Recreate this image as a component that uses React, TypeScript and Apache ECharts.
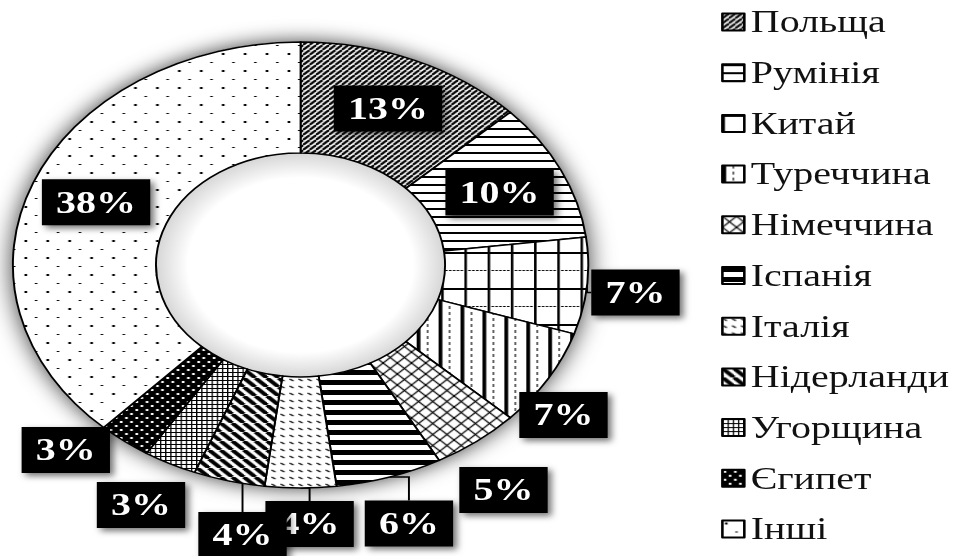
import React, { useEffect, useRef } from "react";
import * as echarts from "echarts";

// ---- data ----
const categories = [
  "Польща",
  "Румінія",
  "Китай",
  "Туреччина",
  "Німеччина",
  "Іспанія",
  "Італія",
  "Нідерланди",
  "Угорщина",
  "Єгипет",
  "Інші",
];
const shares = [13, 10, 7, 7, 5, 6, 4, 4, 3, 3, 38];

// label placement (chart space, before horizontal stretch); null = inside the slice
const labelCenters: (number[] | null)[] = [
  null,
  null,
  [492.6, 292.5],
  [436.8, 415],
  [390.3, 490],
  [317, 523.5],
  [240, 524],
  [188, 535],
  [109.3, 505],
  [51, 450],
  null,
];
const showLeader = [false, false, true, false, false, true, true, true, false, false, false];

const SX = 1.29; // reference picture is stretched horizontally
const W = 748;
const H = 556;
const SERIF = "'Liberation Serif', 'Times New Roman', serif";

type G = CanvasRenderingContext2D;

function tile(w: number, h: number, bg: string, draw: (g: G) => void) {
  const c = document.createElement("canvas");
  c.width = w;
  c.height = h;
  const g = c.getContext("2d") as G;
  g.fillStyle = bg;
  g.fillRect(0, 0, w, h);
  g.fillStyle = "#000";
  g.strokeStyle = "#000";
  draw(g);
  return { image: c.toDataURL(), repeat: "repeat", imageWidth: w, imageHeight: h };
}

function diag(g: G, w: number, h: number, lw: number, dir: number) {
  g.lineWidth = lw;
  for (const o of [-w, 0, w]) {
    g.beginPath();
    if (dir > 0) {
      g.moveTo(o, h);
      g.lineTo(o + w, 0);
    } else {
      g.moveTo(o, 0);
      g.lineTo(o + w, h);
    }
    g.stroke();
  }
}

function makePatterns() {
  return [
    // Польща: dense forward diagonals
    tile(5, 5, "#fff", (g) => diag(g, 5, 5, 2, 1)),
    // Румінія: thin horizontal lines
    tile(8, 8, "#fff", (g) => g.fillRect(0, 0, 8, 2)),
    // Китай: grid with dotted midlines
    tile(18, 36, "#fff", (g) => {
      g.fillRect(0, 0, 2, 36);
      g.fillRect(0, 0, 18, 2);
      for (let x = 0; x < 18; x += 3) g.fillRect(x, 18, 2, 1);
    }),
    // Туреччина: vertical lines, thick + dotted
    tile(17, 6, "#fff", (g) => {
      g.fillRect(0, 0, 3, 6);
      g.fillRect(8, 0, 1, 3);
    }),
    // Німеччина: diamond lattice
    tile(11, 11, "#fff", (g) => {
      diag(g, 11, 11, 1.2, 1);
      diag(g, 11, 11, 1.2, -1);
    }),
    // Іспанія: thick horizontal lines
    tile(8, 10, "#fff", (g) => g.fillRect(0, 0, 8, 5)),
    // Італія: small dashes
    tile(7, 7, "#fff", (g) => {
      g.lineWidth = 1.2;
      g.beginPath();
      g.moveTo(0.5, 1);
      g.lineTo(3.5, 3);
      g.stroke();
    }),
    // Нідерланди: thick back diagonals
    tile(9, 9, "#fff", (g) => diag(g, 9, 9, 3.5, -1)),
    // Угорщина: fine grid
    tile(4, 4, "#fff", (g) => {
      g.fillRect(0, 0, 4, 1);
      g.fillRect(0, 0, 1, 4);
    }),
    // Єгипет: black with white dots
    tile(8, 8, "#000", (g) => {
      g.fillStyle = "#fff";
      g.fillRect(1, 1, 2, 2);
      g.fillRect(5, 5, 2, 2);
    }),
    // Інші: sparse dots
    tile(17, 17, "#fff", (g) => {
      g.fillRect(2, 2, 2, 2);
      g.fillRect(10, 11, 2, 1);
    }),
  ];
}

export default function App() {
  const ref = useRef<HTMLDivElement>(null);

  useEffect(() => {
    if (!ref.current) return;
    const chart = echarts.init(ref.current, null, { renderer: "svg" });
    const patterns = makePatterns();
    const center = [233, 265];
    const radius = [112, 223];

    const option: any = {
      animation: false,
      backgroundColor: "#fff",
      legend: {
        orient: "vertical",
        left: 554,
        top: 1.5,
        height: 560,
        data: categories,
        icon: "rect",
        itemWidth: 17,
        itemHeight: 17,
        itemGap: 19.7,
        selectedMode: false,
        itemStyle: { borderColor: "#000", borderWidth: 2 },
        textStyle: {
          fontFamily: SERIF,
          fontSize: 31,
          lineHeight: 30,
          color: "#111",
        },
      },
      series: [
        {
          type: "pie",
          name: "bg",
          silent: true,
          z: 1,
          center,
          radius,
          label: { show: false },
          labelLine: { show: false },
          itemStyle: {
            color: "#fff",
            shadowBlur: 20,
            shadowColor: "rgba(0,0,0,0.8)",
          },
          data: [{ name: "__bg", value: 1 }],
        },
        {
          type: "pie",
          name: "hole",
          silent: true,
          z: 1,
          center,
          radius: [0, 112],
          label: { show: false },
          labelLine: { show: false },
          itemStyle: {
            color: {
              type: "radial",
              x: 0.5,
              y: 0.5,
              r: 0.5,
              colorStops: [
                { offset: 0, color: "#ffffff" },
                { offset: 0.78, color: "#ffffff" },
                { offset: 1, color: "#d6d6d6" },
              ],
            },
          },
          data: [{ name: "__hole", value: 1 }],
        },
        {
          type: "pie",
          name: "share",
          z: 2,
          center,
          radius,
          startAngle: 90,
          clockwise: true,
          avoidLabelOverlap: false,
          itemStyle: { borderColor: "#000", borderWidth: 1.5 },
          label: {
            show: true,
            formatter: "{c}%",
            color: "#fff",
            fontFamily: SERIF,
            fontWeight: "bold",
            fontSize: 31,
            lineHeight: 34,
            backgroundColor: "#000",
            padding: [6, 11, 6, 11],
            shadowColor: "rgba(0,0,0,0.55)",
            shadowBlur: 6,
            shadowOffsetX: 3,
            shadowOffsetY: 3,
          },
          labelLine: {
            lineStyle: { color: "#000", width: 1.5 },
          },
          labelLayout: (params: any) => {
            const p = labelCenters[params.dataIndex];
            if (!p) return {};
            return { x: p[0], y: p[1], align: "center", verticalAlign: "middle" };
          },
          data: categories.map((name, i) => ({
            name,
            value: shares[i],
            itemStyle: { color: patterns[i] },
            label: { position: labelCenters[i] ? "outside" : "inside" },
            labelLine: { show: showLeader[i] },
          })),
        },
      ],
    };
    chart.setOption(option);
    return () => chart.dispose();
  }, []);

  return (
    <div
      ref={ref}
      style={{
        position: "absolute",
        left: 0,
        top: 0,
        width: W,
        height: H,
        transform: `scaleX(${SX})`,
        transformOrigin: "0 0",
        background: "#fff",
      }}
    />
  );
}
